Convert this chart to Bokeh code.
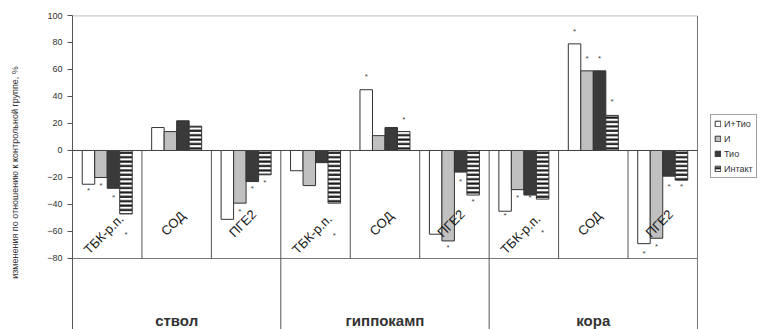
import numpy as np
from bokeh.plotting import figure
from bokeh.models import Range1d, FixedTicker, Legend, LegendItem, ColumnDataSource
from bokeh.embed import file_html
from bokeh.resources import INLINE
from bokeh.core.properties import value

# ---- data ----
groups = ["ствол", "гиппокамп", "кора"]
categories = ["ТБК-р.п.", "СОД", "ПГЕ2"]
series = ["И+Тио", "И", "Тио", "Интакт"]

# order: ствол (ТБК, СОД, ПГЕ2), гиппокамп (...), кора (...)
vals_i_tio = [-25, 17, -51, -15, 45, -62, -45, 79, -69]
vals_i = [-20, 14, -39, -26, 11, -67, -29, 59, -65]
vals_tio = [-28, 22, -23, -9, 17, -16, -33, 59, -19]
vals_intakt = [-47, 18, -18, -39, 14, -33, -36, 26, -22]

# significance marks (position of "*"), None = no mark
star_i_tio = [-30, None, None, None, 55, None, -48, 88, -76]
star_i = [-26, None, -45, None, None, -72, -35, 68, -71]
star_tio = [-35, None, -28, None, None, -23, -35, 68, -27]
star_intakt = [-62, None, -24, -63, 23, -38, -61, 36, -27]

y_ticks = [-80, -60, -40, -20, 0, 20, 40, 60, 80, 100]
y_label = "изменения по отношению к контрольной группе, %"

FONT = "Liberation Sans"
n_cat = len(groups) * len(categories)
y_bottom = -132.6
x_end = 9.951  # extra blank room on the right holds the legend

p = figure(width=763, height=329, output_backend="svg", toolbar_location=None,
           x_range=Range1d(0, x_end), y_range=Range1d(y_bottom, 100),
           x_axis_location=None, min_border_left=72, min_border_right=0,
           min_border_top=15, min_border_bottom=0)
p.xgrid.visible = False
p.ygrid.visible = False
p.outline_line_color = None
p.background_fill_color = "white"
p.border_fill_color = "white"

ax = p.yaxis[0]
ax.ticker = FixedTicker(ticks=y_ticks)
ax.major_tick_out = 5
ax.major_tick_in = 0
ax.minor_tick_line_color = None
ax.axis_line_color = "#555555"
ax.major_tick_line_color = "#555555"
ax.major_label_text_font = FONT
ax.major_label_text_font_size = "9px"
ax.major_label_text_color = "#333333"
ax.axis_label = y_label
ax.axis_label_text_font = FONT
ax.axis_label_text_font_size = "9px"
ax.axis_label_text_font_style = "normal"
ax.axis_label_text_color = "#333333"
ax.axis_label_standoff = 24

# frame lines
line_col = "#555555"
p.segment(x0=[0], y0=[99.8], x1=[n_cat], y1=[99.8], line_color="#999999", line_width=1)
p.segment(x0=[n_cat], y0=[y_bottom], x1=[n_cat], y1=[99.8], line_color="#777777", line_width=1)
p.segment(x0=[0], y0=[-80], x1=[n_cat], y1=[-80], line_color="#777777", line_width=1)
cat_sep = [i for i in range(1, n_cat) if i % len(categories) != 0]
grp_sep = [i for i in range(1, n_cat) if i % len(categories) == 0]
p.segment(x0=cat_sep, y0=[0] * len(cat_sep), x1=cat_sep, y1=[-80] * len(cat_sep),
          line_color=line_col, line_width=1)
p.segment(x0=grp_sep, y0=[0] * len(grp_sep), x1=grp_sep, y1=[y_bottom] * len(grp_sep),
          line_color=line_col, line_width=1)

# bars
bar_w = 0.18
offsets = [-1.5 * bar_w, -0.5 * bar_w, 0.5 * bar_w, 1.5 * bar_w]
all_vals = [vals_i_tio, vals_i, vals_tio, vals_intakt]
all_stars = [star_i_tio, star_i, star_tio, star_intakt]
styles = [
    dict(fill_color="white"),
    dict(fill_color="#c0c0c0"),
    dict(fill_color="#3a3a3a"),
    dict(fill_color="white", hatch_pattern="horizontal_line", hatch_color="#1a1a1a",
         hatch_scale=4.4, hatch_weight=2.2),
]
renderers = []
for k, (vals, st) in enumerate(zip(all_vals, styles)):
    xs = [i + 0.5 + offsets[k] for i in range(n_cat)]
    src = ColumnDataSource(dict(x=xs, top=vals))
    r = p.vbar(x="x", top="top", bottom=0, width=bar_w, source=src,
               line_color="#333333", line_width=1, **st)
    renderers.append(r)

# zero line on top of bars
p.segment(x0=[0], y0=[0], x1=[n_cat], y1=[0], line_color="#444444", line_width=1)

# stars
sx, sy = [], []
for k, stars in enumerate(all_stars):
    for i, s in enumerate(stars):
        if s is not None:
            sx.append(i + 0.5 + offsets[k])
            sy.append(s)
p.text(x=sx, y=sy, text=["*"] * len(sx), text_font=value(FONT), text_font_size="8px",
       text_color="#444444", text_align="center", text_baseline="middle")

# category labels (rotated)
lx, ly, lt = [], [], []
for g in range(len(groups)):
    for c, name in enumerate(categories):
        lx.append(g * len(categories) + c + 0.45)
        ly.append(-62 if c == 0 else -54)
        lt.append(name)
p.text(x=lx, y=ly, text=lt, angle=np.pi / 4, text_font=value(FONT), text_font_size="13px",
       text_color="#1a1a1a", text_align="center", text_baseline="middle")

# group labels
gx = [g * len(categories) + len(categories) / 2 for g in range(len(groups))]
p.text(x=gx, y=[-126] * len(groups), text=groups, text_font=value(FONT),
       text_font_size="15px", text_font_style="bold", text_color="#333333",
       text_align="center", text_baseline="middle")

legend = Legend(items=[LegendItem(label=s, renderers=[r]) for s, r in zip(series, renderers)],
                location=(638, 151))
legend.label_text_font = FONT
legend.label_text_font_size = "9px"
legend.label_text_color = "#333333"
legend.glyph_width = 7
legend.glyph_height = 7
legend.label_height = 11
legend.label_standoff = 3
legend.spacing = 4
legend.padding = 3
legend.margin = 0
legend.border_line_color = "#444444"
legend.background_fill_color = "white"
p.add_layout(legend, "center")

open("out.html", "w").write(file_html(p, INLINE))
